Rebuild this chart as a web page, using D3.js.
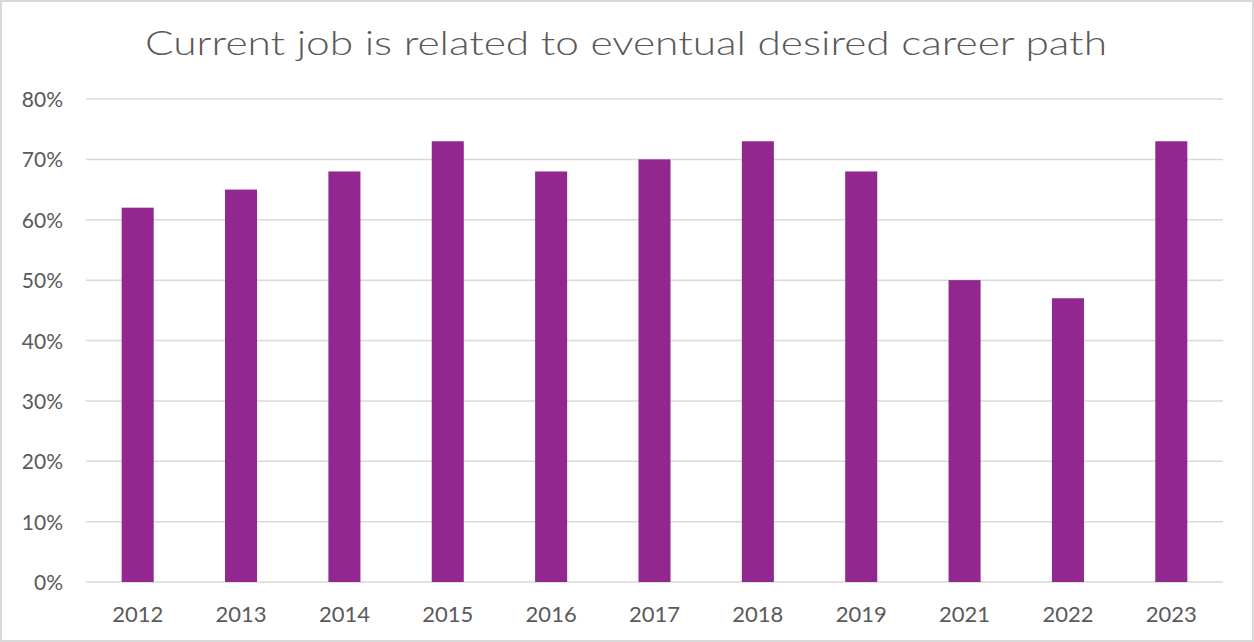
<!DOCTYPE html>
<html>
<head>
<meta charset="utf-8">
<script src="https://cdn.jsdelivr.net/npm/d3@7"></script>
<style>
  body { margin: 0; background: #fff; }
  svg text { font-family: "Lato", "Noto Sans", sans-serif; fill: #595959; }
</style>
</head>
<body>
<div id="chart"></div>
<script>
// data
const years = ["2012", "2013", "2014", "2015", "2016", "2017", "2018", "2019", "2021", "2022", "2023"];
const values = [0.62, 0.65, 0.68, 0.73, 0.68, 0.70, 0.73, 0.68, 0.50, 0.47, 0.73];
const yTicks = [0, 0.1, 0.2, 0.3, 0.4, 0.5, 0.6, 0.7, 0.8];
const title = "Current job is related to eventual desired career path";

const width = 1254, height = 642;
const margin = {top: 99, right: 31, bottom: 60, left: 86};

const svg = d3.select("#chart")
  .append("svg")
    .attr("width", width)
    .attr("height", height);

// outer frame
svg.append("rect")
  .attr("x", 1).attr("y", 1)
  .attr("width", width - 2).attr("height", height - 2)
  .attr("fill", "#fff")
  .attr("stroke", "#d9d9d9")
  .attr("stroke-width", 2);

svg.append("text")
  .attr("x", 626)
  .attr("y", 55)
  .attr("text-anchor", "middle")
  .attr("textLength", 962)
  .attr("lengthAdjust", "spacingAndGlyphs")
  .style("font-size", "33px")
  .style("font-weight", 300)
  .text(title);

const x = d3.scaleBand()
  .domain(years)
  .range([margin.left, width - margin.right])
  .paddingInner(0.69)
  .paddingOuter(0.345);

const y = d3.scaleLinear()
  .domain([0, 0.8])
  .range([height - margin.bottom, margin.top]);

// gridlines
svg.append("g")
  .selectAll("line")
  .data(yTicks)
  .join("line")
    .attr("x1", margin.left)
    .attr("x2", width - margin.right)
    .attr("y1", d => y(d))
    .attr("y2", d => y(d))
    .attr("stroke", "#d9d9d9")
    .attr("stroke-width", 1.5);

// y labels
svg.append("g")
  .selectAll("text")
  .data(yTicks)
  .join("text")
    .attr("x", 63)
    .attr("y", d => y(d) + 8)
    .attr("text-anchor", "end")
    .style("font-size", "21px")
    .text(d => d3.format(".0%")(d));

// bars
svg.append("g")
  .selectAll("rect")
  .data(values)
  .join("rect")
    .attr("x", (d, i) => x(years[i]))
    .attr("y", d => y(d))
    .attr("width", x.bandwidth())
    .attr("height", d => y(0) - y(d))
    .attr("fill", "#92278f");

// x labels
svg.append("g")
  .selectAll("text")
  .data(years)
  .join("text")
    .attr("x", d => x(d) + x.bandwidth() / 2)
    .attr("y", 622)
    .attr("text-anchor", "middle")
    .style("font-size", "22px")
    .text(d => d);
</script>
</body>
</html>
